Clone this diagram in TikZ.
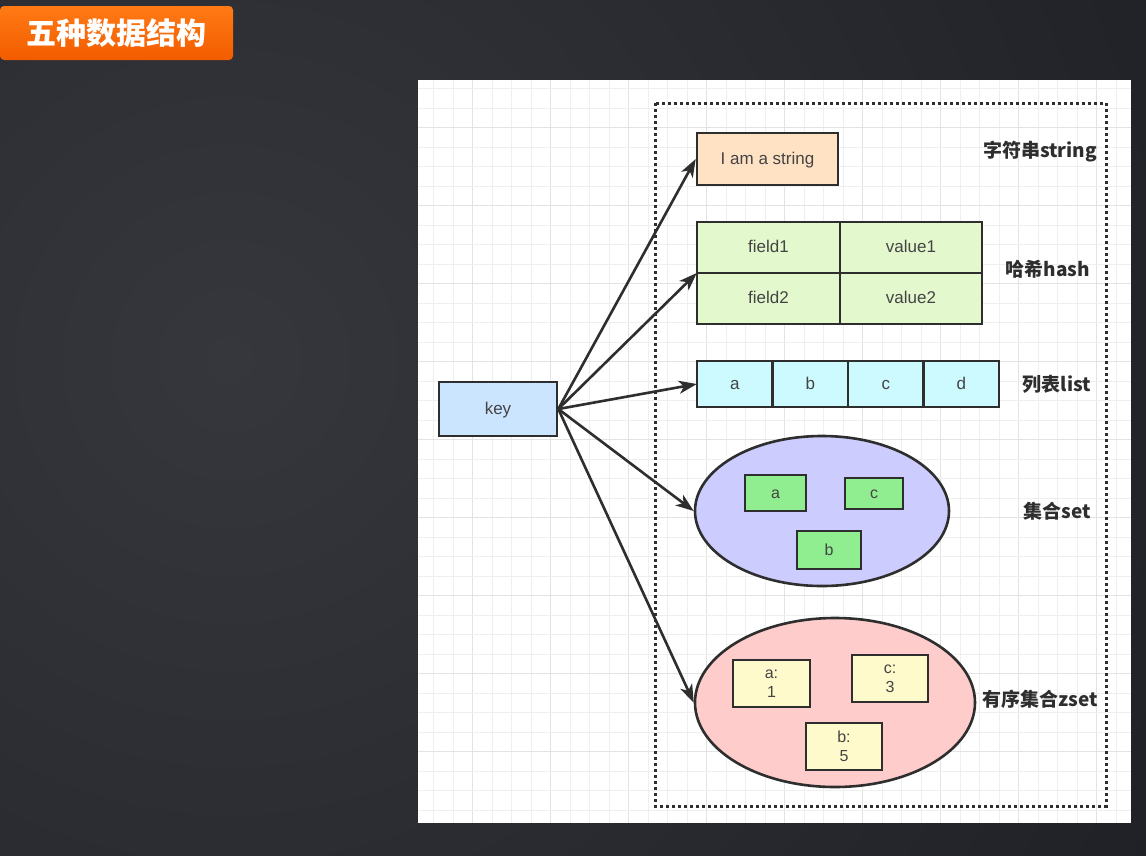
\documentclass[tikz,border=0pt]{standalone}
\usepackage{xcolor}
\usepackage{fontspec}
\setmainfont{Liberation Sans}
\newfontfamily\cjk{Noto Sans CJK SC}
\usepackage{tikz}
\usetikzlibrary{shapes.geometric, arrows.meta, positioning, fit, backgrounds, calc}
\definecolor{bgbase}{HTML}{1E2026}
\definecolor{bglite}{HTML}{35373D}
\definecolor{orangetop}{HTML}{FF7A14}
\definecolor{orangebot}{HTML}{F25C00}
\definecolor{edge}{HTML}{2E2E2E}
\definecolor{txt}{HTML}{444444}
\definecolor{gridminor}{HTML}{EFEFEF}
\definecolor{gridmajor}{HTML}{E3E3E3}
\definecolor{strfill}{HTML}{FFE1C4}
\definecolor{hashfill}{HTML}{E3F8CC}
\definecolor{listfill}{HTML}{CCFAFF}
\definecolor{keyfill}{HTML}{CCE5FF}
\definecolor{setfill}{HTML}{CCCCFF}
\definecolor{setitem}{HTML}{90EE90}
\definecolor{zsetfill}{HTML}{FFCCCC}
\definecolor{zsetitem}{HTML}{FFFACC}
\tikzset{
  titlebox/.style={
    rectangle, rounded corners=4pt,
    minimum width=233pt, minimum height=54pt,
    top color=orangetop, bottom color=orangebot,
    text=white, font=\fontsize{30}{34}\selectfont\cjk\bfseries,
  },
  cell/.style={
    rectangle, inner sep=0pt,
    text centered, draw=edge, line width=2.6pt,
    text height=13pt, text depth=3pt,
    font=\fontsize{17}{20}\selectfont, text=txt,
  },
  bag/.style={
    ellipse, inner sep=0pt,
    draw=edge, line width=2.6pt,
  },
  item/.style={
    rectangle, inner sep=0pt, align=center,
    draw=edge, line width=2.6pt,
    font=\fontsize{16}{19}\selectfont, text=txt,
  },
  dslabel/.style={font=\fontsize{19}{22}\selectfont\cjk\bfseries, text=edge},
  arrow/.style={-{Stealth[length=18pt, width=13pt, inset=5pt]}, line width=2.6pt, color=edge},
  gridline/.style={line width=1pt, color=gridminor},
}
\begin{document}
\begin{tikzpicture}[x=1pt, y=-1pt]

  \useasboundingbox (0,0) rectangle (1146,855);
  \fill[bgbase] (0,0) rectangle (1146,855);
  \shade[inner color=bglite, outer color=bgbase] (230,360) circle (1100);

  % canvas with grid
  \fill[white] (418,80) rectangle (1131,823);
  \begin{scope}
    \clip (418,80) rectangle (1131,823);
    \foreach \gx in {0,...,37} {
      \pgfmathtruncatemacro{\gm}{mod(\gx,4)}
      \ifnum\gm=3
        \draw[gridline, color=gridmajor] ({414+19.5*\gx},80) -- ++(0,743);
      \else
        \draw[gridline] ({414+19.5*\gx},80) -- ++(0,743);
      \fi
    }
    \foreach \gy in {0,...,39} {
      \pgfmathtruncatemacro{\gm}{mod(\gy,4)}
      \ifnum\gm=3
        \draw[gridline, color=gridmajor] (418,{69+19.5*\gy}) -- ++(713,0);
      \else
        \draw[gridline] (418,{69+19.5*\gy}) -- ++(713,0);
      \fi
    }
  \end{scope}

  \node[titlebox] (title) at (116.5,33) {五种数据结构};

  \draw[edge, line width=3pt, dash pattern=on 3pt off 3pt] (655,103) rectangle (1106,806);

  \node[cell, fill=keyfill, minimum width=118pt, minimum height=54pt] (key) at (498,409) {key};

  % string
  \node[cell, fill=strfill, minimum width=141pt, minimum height=52pt] (str) at (767.5,159) {I am a string};
  \node[dslabel] (lstr) at (1040,152) {字符串string};

  % hash
  \node[cell, fill=hashfill, minimum width=143pt, minimum height=51pt] (f1) at (768.5,247.5) {field1};
  \node[cell, fill=hashfill, minimum width=142pt, minimum height=51pt] (v1) at (911,247.5) {value1};
  \node[cell, fill=hashfill, minimum width=143pt, minimum height=51pt] (f2) at (768.5,298.5) {field2};
  \node[cell, fill=hashfill, minimum width=142pt, minimum height=51pt] (v2) at (911,298.5) {value2};
  \node[fit=(f1)(v2), inner sep=-1.3pt] (hash) {};
  \node[dslabel] (lhash) at (1048,269) {哈希hash};

  % list
  \node[cell, fill=listfill, minimum width=75.5pt, minimum height=46pt] (la) at (734.75,384) {a};
  \node[cell, fill=listfill, minimum width=75.5pt, minimum height=46pt] (lb) at (810.25,384) {b};
  \node[cell, fill=listfill, minimum width=75.5pt, minimum height=46pt] (lc) at (885.75,384) {c};
  \node[cell, fill=listfill, minimum width=75.5pt, minimum height=46pt] (ld) at (961.25,384) {d};
  \node[fit=(la)(ld), inner sep=-1.3pt] (list) {};
  \node[dslabel] (llist) at (1057,384) {列表list};

  % set
  \node[bag, fill=setfill, minimum width=254pt, minimum height=150pt] (set) at (822,511) {};
  \node[cell, fill=setitem, minimum width=61pt, minimum height=36pt, font=\fontsize{16}{19}\selectfont] (sa) at (775.5,493) {a};
  \node[cell, fill=setitem, minimum width=58pt, minimum height=31pt, font=\fontsize{16}{19}\selectfont] (sc) at (874,493.5) {c};
  \node[cell, fill=setitem, minimum width=64pt, minimum height=38pt, font=\fontsize{16}{19}\selectfont] (sb) at (829,550) {b};
  \node[dslabel] (lset) at (1057,511) {集合set};

  % zset
  \node[bag, fill=zsetfill, minimum width=280pt, minimum height=169pt] (zset) at (835,702.5) {};
  \node[item, fill=zsetitem, minimum width=77pt, minimum height=47pt] (za) at (771.5,683.5) {a:\\1};
  \node[item, fill=zsetitem, minimum width=76pt, minimum height=47pt] (zc) at (890,678.5) {c:\\3};
  \node[item, fill=zsetitem, minimum width=76pt, minimum height=47pt] (zb) at (844,746.5) {b:\\5};
  \node[dslabel] (lzset) at (1040,699) {有序集合zset};

  \draw[arrow] (key.east) -- (str.west);
  \draw[arrow] (key.east) -- (hash.west);
  \draw[arrow] (key.east) -- (list.west);
  \draw[arrow] (key.east) -- (set.west);
  \draw[arrow] (key.east) -- (zset.west);

\end{tikzpicture}
\end{document}
